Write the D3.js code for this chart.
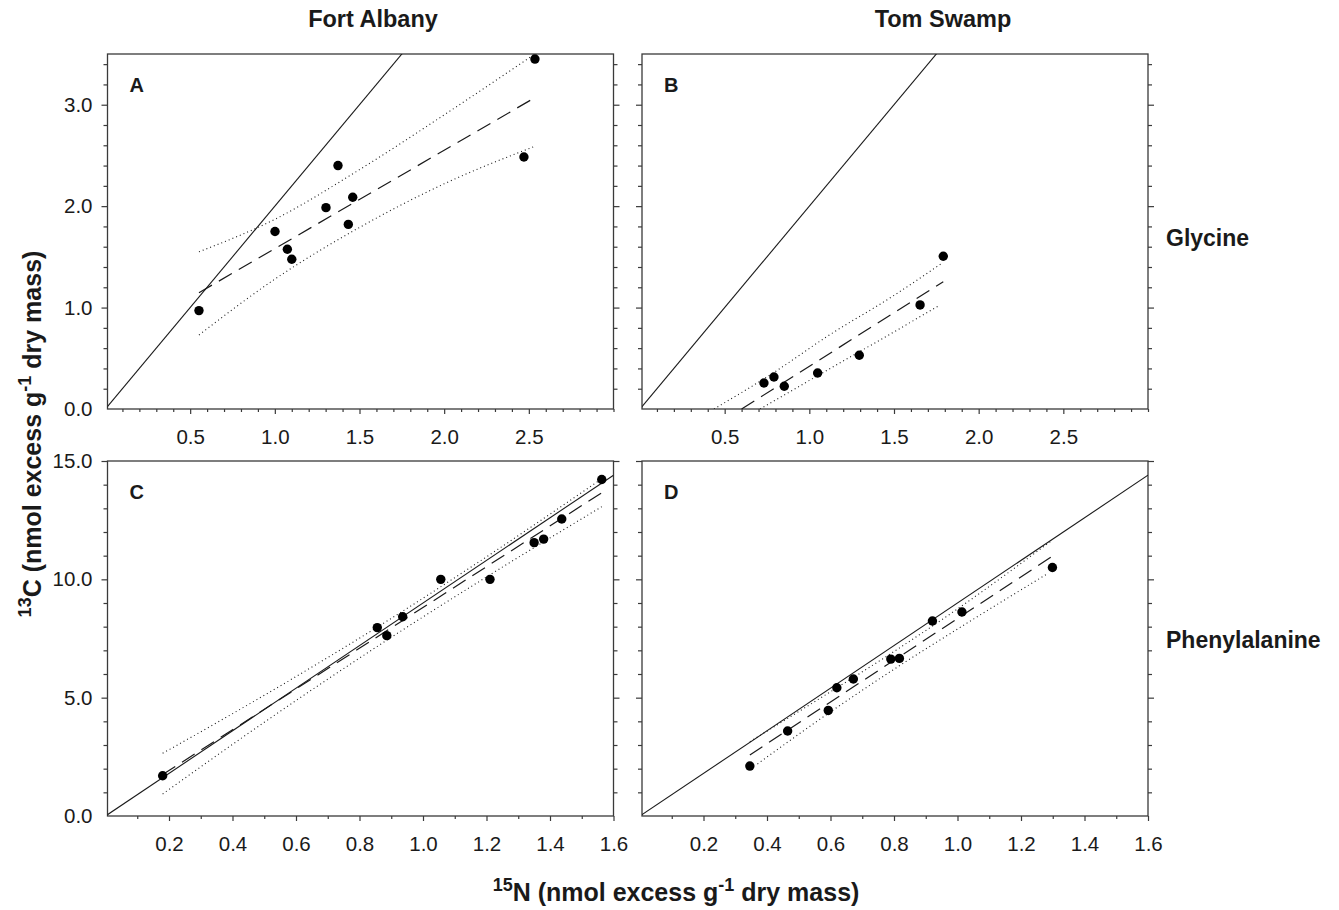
<!DOCTYPE html>
<html>
<head>
<meta charset="utf-8">
<script src="https://cdn.jsdelivr.net/npm/d3@7"></script>
<style>
  html, body { margin: 0; padding: 0; background: #fff; }
  svg { display: block; font-family: "Liberation Sans", Arial, Helvetica, sans-serif; }
</style>
</head>
<body>
<svg id="chart" width="1339" height="910"></svg>
<script>
// ---------------- DATA ----------------
const columnTitles = ["Fort Albany", "Tom Swamp"];
const rowTitles = ["Glycine", "Phenylalanine"];
const panelLetters = ["A", "B", "C", "D"];

// expected C:N ratio (solid reference lines)
const glyRatio = 2;
const pheRatio = 9;

// tick labels
const glyXTicks = [0.5, 1.0, 1.5, 2.0, 2.5];
const glyYTicks = [0, 1, 2, 3];
const pheXTicks = [0.2, 0.4, 0.6, 0.8, 1.0, 1.2, 1.4, 1.6];
const pheYTicks = [0, 5, 10, 15];

// Panel A: Fort Albany, glycine
const aN = [0.552, 1.001, 1.074, 1.100, 1.302, 1.373, 1.434, 1.460, 2.471, 2.536];
const aC = [0.97, 1.75, 1.575, 1.476, 1.985, 2.40, 1.82, 2.088, 2.485, 3.45];
const aFitX = [0.552, 2.536];
const aFitY = [1.147, 3.07];
const aHiX = [0.552, 1.0, 1.5, 2.0, 2.536];
const aHi = [1.55, 1.87, 2.36, 2.90, 3.50];
const aLoX = [0.552, 1.0, 1.5, 2.0, 2.536];
const aLo = [0.73, 1.28, 1.79, 2.22, 2.59];

// Panel B: Tom Swamp, glycine
const bN = [0.732, 0.791, 0.852, 1.049, 1.295, 1.654, 1.791];
const bC = [0.256, 0.316, 0.224, 0.355, 0.53, 1.026, 1.506];
const bFitX = [0.60, 1.791];
const bFitY = [0.0, 1.255];
const bHiX = [0.437, 0.8, 1.1, 1.5, 1.785];
const bHi = [0.0, 0.37, 0.71, 1.12, 1.44];
const bLoX = [0.709, 1.1, 1.5, 1.772];
const bLo = [0.0, 0.378, 0.76, 1.026];

// Panel C: Fort Albany, phenylalanine
const cN = [0.180, 0.856, 0.886, 0.936, 1.056, 1.211, 1.350, 1.380, 1.437, 1.563];
const cC = [1.70, 7.96, 7.62, 8.42, 10.0, 10.0, 11.55, 11.70, 12.55, 14.22];
const cFitX = [0.180, 1.563];
const cFitY = [1.75, 13.66];
const cHiX = [0.180, 0.5, 0.9, 1.2, 1.563];
const cHi = [2.65, 5.1, 8.35, 10.95, 14.25];
const cLoX = [0.180, 0.5, 0.9, 1.2, 1.563];
const cLo = [0.93, 3.96, 7.55, 10.1, 13.07];

// Panel D: Tom Swamp, phenylalanine
const dN = [0.346, 0.465, 0.593, 0.620, 0.672, 0.790, 0.817, 0.921, 1.014, 1.299];
const dC = [2.11, 3.59, 4.46, 5.42, 5.79, 6.63, 6.66, 8.24, 8.62, 10.5];
const dFitX = [0.346, 1.299];
const dFitY = [2.58, 10.98];
const dHiX = [0.346, 0.6, 0.8, 1.0, 1.299];
const dHi = [3.14, 5.25, 6.95, 8.75, 11.66];
const dLoX = [0.37, 0.6, 0.8, 1.0, 1.28];
const dLo = [2.2, 4.4, 6.2, 7.9, 10.21];

// ---------------- LAYOUT ----------------
const svg = d3.select("#chart");
const colGeom = [{L: 107.5, R: 613.5, x0: 105.5}, {L: 642, R: 1148, x0: 640}];
const rowGeom = [{T: 54, B: 409}, {T: 461, B: 816}];

const panels = [
  {letter: panelLetters[0], col: 0, row: 0, xmax: 3.0, ymax: 3.5, ratio: glyRatio, N: aN, C: aC, fitX: aFitX, fitY: aFitY, hiX: aHiX, hi: aHi, loX: aLoX, lo: aLo},
  {letter: panelLetters[1], col: 1, row: 0, xmax: 3.0, ymax: 3.5, ratio: glyRatio, N: bN, C: bC, fitX: bFitX, fitY: bFitY, hiX: bHiX, hi: bHi, loX: bLoX, lo: bLo},
  {letter: panelLetters[2], col: 0, row: 1, xmax: 1.6, ymax: 15, ratio: pheRatio, N: cN, C: cC, fitX: cFitX, fitY: cFitY, hiX: cHiX, hi: cHi, loX: cLoX, lo: cLo},
  {letter: panelLetters[3], col: 1, row: 1, xmax: 1.6, ymax: 15, ratio: pheRatio, N: dN, C: dC, fitX: dFitX, fitY: dFitY, hiX: dHiX, hi: dHi, loX: dLoX, lo: dLo}
];

const ink = "#1a1a1a";
const frameCol = "#3a3a3a";
const tickFont = 20.5;

panels.forEach((p, i) => {
  const cg = colGeom[p.col], rg = rowGeom[p.row];
  const x = d3.scaleLinear().domain([0, p.xmax]).range([cg.x0, cg.R]);
  const y = d3.scaleLinear().domain([0, p.ymax]).range([rg.B, rg.T]);
  const g = svg.append("g");

  const isGly = p.row === 0;
  const xMajor = isGly ? glyXTicks : pheXTicks;
  const yMajor = isGly ? glyYTicks : pheYTicks;
  const xStep = 0.1;
  const yStep = isGly ? 0.2 : 1;
  const near = (v, arr) => arr.some(a => Math.abs(a - v) < 1e-6);
  const xMinor = d3.range(1, Math.round(p.xmax / xStep) + 1).map(k => +(k * xStep).toFixed(3)).filter(v => !near(v, xMajor) && x(v) > cg.L + 1);
  const yMinor = d3.range(1, Math.round(p.ymax / yStep) + 1).map(k => +(k * yStep).toFixed(3)).filter(v => !near(v, yMajor) && v < p.ymax - 1e-6);

  const clipId = "clip" + i;
  svg.append("clipPath").attr("id", clipId)
    .append("rect").attr("x", cg.L).attr("y", rg.T).attr("width", cg.R - cg.L).attr("height", rg.B - rg.T);

  const styleAxis = sel => {
    sel.select(".domain").remove();
    sel.selectAll(".tick line").attr("stroke", frameCol).attr("stroke-width", 1.2);
    sel.selectAll("text").attr("fill", ink).attr("font-size", tickFont);
  };
  // bottom
  g.append("g").attr("transform", `translate(0,${rg.B})`)
    .call(d3.axisBottom(x).tickValues(xMinor).tickSize(3).tickFormat(""))
    .call(styleAxis);
  g.append("g").attr("transform", `translate(0,${rg.B})`)
    .call(d3.axisBottom(x).tickValues(xMajor).tickSize(5).tickPadding(15).tickFormat(d3.format(".1f")))
    .call(styleAxis);
  // left
  g.append("g").attr("transform", `translate(${cg.L},0)`)
    .call(d3.axisLeft(y).tickValues(yMinor).tickSize(4).tickFormat(""))
    .call(styleAxis);
  g.append("g").attr("transform", `translate(${cg.L},0)`)
    .call(d3.axisLeft(y).tickValues(yMajor.filter(v => v > 0)).tickSize(6).tickPadding(9).tickFormat(p.col === 0 ? d3.format(".1f") : ""))
    .call(styleAxis);
  if (p.col === 0) {
    g.append("g").attr("transform", `translate(${cg.L},0)`)
      .call(d3.axisLeft(y).tickValues([0]).tickSize(0).tickPadding(15).tickFormat(d3.format(".1f")))
      .call(styleAxis);
  }
  // right
  g.append("g").attr("transform", `translate(${cg.R},0)`)
    .call(d3.axisRight(y).tickValues(yMinor).tickSize(4).tickFormat(""))
    .call(styleAxis);
  g.append("g").attr("transform", `translate(${cg.R},0)`)
    .call(d3.axisRight(y).tickValues(yMajor.filter(v => v > 0)).tickSize(6).tickFormat(""))
    .call(styleAxis);

  // frame
  g.append("rect").attr("x", cg.L).attr("y", rg.T).attr("width", cg.R - cg.L).attr("height", rg.B - rg.T)
    .attr("fill", "none").attr("stroke", frameCol).attr("stroke-width", 1.3);

  const plot = g.append("g").attr("clip-path", `url(#${clipId})`);

  // expected ratio line
  plot.append("line")
    .attr("x1", x(0)).attr("y1", y(0))
    .attr("x2", x(p.xmax)).attr("y2", y(p.ratio * p.xmax))
    .attr("stroke", ink).attr("stroke-width", 1.1);

  // confidence bands
  const band = d3.line().x(d => x(d[0])).y(d => y(d[1])).curve(d3.curveMonotoneX);
  plot.append("path").datum(p.hiX.map((v, k) => [v, p.hi[k]]))
    .attr("d", band).attr("fill", "none").attr("stroke", ink).attr("stroke-width", 1.1)
    .attr("stroke-dasharray", "1,3");
  plot.append("path").datum(p.loX.map((v, k) => [v, p.lo[k]]))
    .attr("d", band).attr("fill", "none").attr("stroke", ink).attr("stroke-width", 1.1)
    .attr("stroke-dasharray", "1,3");

  // regression line
  plot.append("line")
    .attr("x1", x(p.fitX[0])).attr("y1", y(p.fitY[0]))
    .attr("x2", x(p.fitX[1])).attr("y2", y(p.fitY[1]))
    .attr("stroke", ink).attr("stroke-width", 1.2).attr("stroke-dasharray", "15,8");

  // points
  g.append("g").selectAll("circle").data(p.N.map((v, k) => [v, p.C[k]])).join("circle")
    .attr("cx", d => x(d[0])).attr("cy", d => y(d[1])).attr("r", 4.7).attr("fill", "#000");

  // panel letter
  g.append("text").attr("x", cg.L + 22).attr("y", rg.T + 37.5)
    .attr("font-size", 20).attr("font-weight", "bold").attr("fill", ink).text(p.letter);
});

// column titles
svg.append("text").attr("x", 373).attr("y", 27).attr("text-anchor", "middle")
  .attr("font-size", 23.5).attr("font-weight", "bold").attr("fill", ink).text(columnTitles[0]);
svg.append("text").attr("x", 943).attr("y", 27).attr("text-anchor", "middle")
  .attr("font-size", 23.5).attr("font-weight", "bold").attr("fill", ink).text(columnTitles[1]);

// row titles
svg.append("text").attr("x", 1166).attr("y", 246)
  .attr("font-size", 23).attr("font-weight", "bold").attr("fill", ink).text(rowTitles[0]);
svg.append("text").attr("x", 1166).attr("y", 648)
  .attr("font-size", 23).attr("font-weight", "bold").attr("fill", ink).text(rowTitles[1]);

// axis titles
const xt = svg.append("text").attr("x", 676).attr("y", 901).attr("text-anchor", "middle")
  .attr("font-size", 25).attr("font-weight", "bold").attr("fill", ink);
xt.append("tspan").attr("font-size", 18).attr("dy", -10).text("15");
xt.append("tspan").attr("dy", 10).text("N (nmol excess g");
xt.append("tspan").attr("font-size", 18).attr("dy", -10).text("-1");
xt.append("tspan").attr("dy", 10).text(" dry mass)");

const yt = svg.append("text").attr("transform", "translate(41,434) rotate(-90)").attr("text-anchor", "middle")
  .attr("font-size", 25).attr("font-weight", "bold").attr("fill", ink);
yt.append("tspan").attr("font-size", 18).attr("dy", -10).text("13");
yt.append("tspan").attr("dy", 10).text("C (nmol excess g");
yt.append("tspan").attr("font-size", 18).attr("dy", -10).text("-1");
yt.append("tspan").attr("dy", 10).text(" dry mass)");
</script>
</body>
</html>
